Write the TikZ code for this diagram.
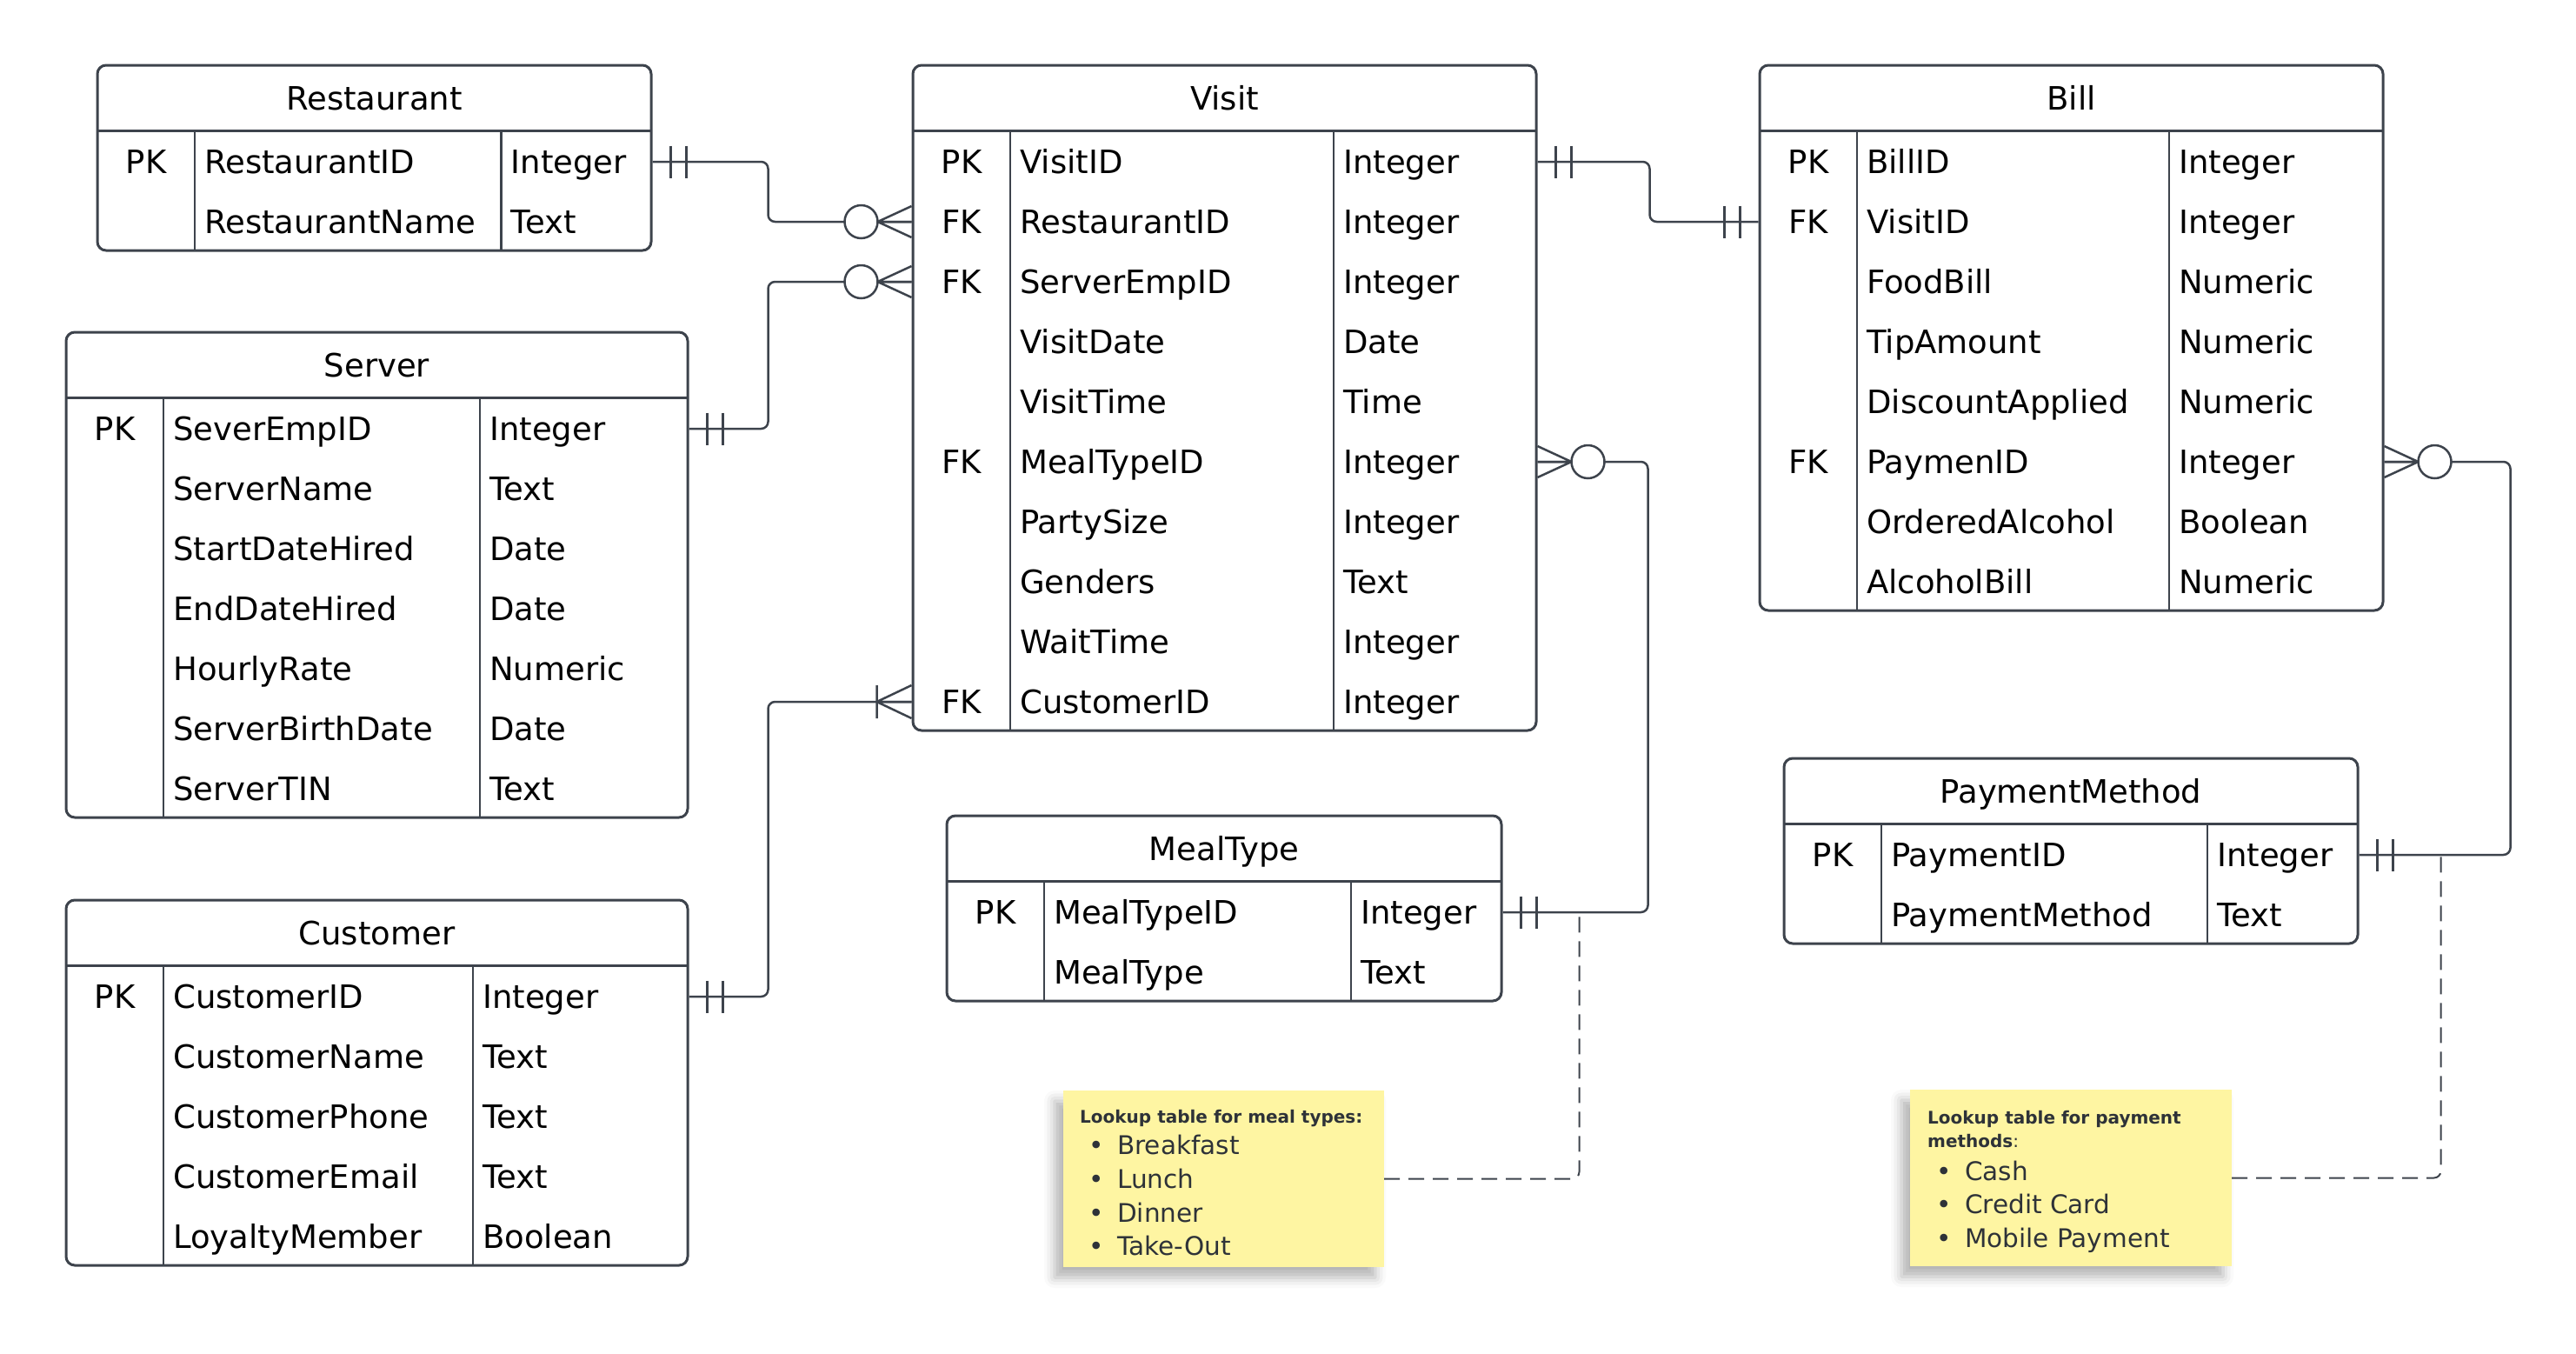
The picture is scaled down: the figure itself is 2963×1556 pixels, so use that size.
\documentclass[tikz,border=0pt]{standalone}
\usepackage{fontspec}
\setmainfont{DejaVu Sans}
\usetikzlibrary{calc,shadows,shadows.blur}
\definecolor{linegrey}{HTML}{3D434C}
\definecolor{noteyellow}{HTML}{FEF5A2}
\definecolor{notetext}{HTML}{2E3238}
\newcommand{\erfont}{\fontsize{37}{44}\selectfont}
\newcommand{\noteheadfont}{\fontsize{20}{27}\selectfont\bfseries}
\newcommand{\noteitemfont}{\fontsize{29.5}{38}\selectfont}
\tikzstyle{tablebox}=[draw=linegrey,line width=3pt,rounded corners=10pt,fill=white,inner sep=0pt]
\tikzstyle{tableline}=[draw=linegrey,line width=3pt]
\tikzstyle{colline}=[draw=linegrey,line width=2.5pt]
\tikzstyle{keytext}=[font=\erfont,inner sep=0pt,text height=27pt,text depth=0pt]
\tikzstyle{rowtext}=[keytext,anchor=west]
\tikzstyle{relline}=[draw=linegrey,line width=2.5pt,rounded corners=8pt]
\tikzstyle{noteline}=[draw=linegrey,line width=2pt,dash pattern=on 18pt off 10pt,rounded corners=8pt]
\tikzstyle{stickynote}=[fill=noteyellow,inner sep=0pt,blur shadow={shadow xshift=-10pt,shadow yshift=-12pt,shadow blur radius=12pt,shadow opacity=30}]
\tikzstyle{notehead}=[font=\noteheadfont,text=notetext,anchor=west,inner sep=0pt,text height=15pt,text depth=0pt]
\tikzstyle{noteitem}=[font=\noteitemfont,text=notetext,anchor=west,inner sep=0pt,text height=21.5pt,text depth=0pt]
\tikzset{
  oneone/.pic={\draw[relline,sharp corners] (21,-18.5) -- (21,18.5) (39,-18.5) -- (39,18.5);},
  zeromany/.pic={\draw[relline,sharp corners] (0,-18) -- (39,0) -- (0,18) (0,0) -- (39,0);
    \draw[relline,fill=white] (58,0) circle (19);},
  onemany/.pic={\draw[relline,sharp corners] (0,-19) -- (40,0) -- (0,19) (0,0) -- (40,0) (40,-19) -- (40,19);}
}
% name, title, left, top, right, type column, number of rows, rows
\newcommand{\ertable}[8]{%
  \pgfmathsetmacro{\tabhdr}{#4+75}
  \pgfmathsetmacro{\tabbot}{#4+75+69*#7}
  \node[tablebox,minimum width={(#5-#3)*1pt},minimum height={(\tabbot-#4)*1pt}]
    (#1) at ({(#3+#5)/2},{(#4+\tabbot)/2}) {};
  \node[keytext] (#1-title) at ({(#3+#5)/2},{(#4+\tabhdr)/2}) {#2};
  \draw[tableline] (#3,\tabhdr) -- (#5,\tabhdr);
  \draw[colline] ({#3+112},\tabhdr) -- ({#3+112},\tabbot);
  \draw[colline] (#6,\tabhdr) -- (#6,\tabbot);
  \foreach \ky/\fd/\ty [count=\i] in {#8} {
    \pgfmathsetmacro{\rowy}{\tabhdr+36+69*(\i-1)}
    \node[keytext] (#1-k\i) at ({#3+56},\rowy) {\ky};
    \node[rowtext] (#1-f\i) at ({#3+123},\rowy) {\fd};
    \node[rowtext] (#1-t\i) at ({#6+11},\rowy) {\ty};
  }
}
\begin{document}
\begin{tikzpicture}[x=1pt,y=-1pt]
  \useasboundingbox (0,0) rectangle (2963,1556);

  % entities
  \ertable{restaurant}{Restaurant}{112}{75}{749}{576.5}{2}
    {PK/RestaurantID/Integer, {}/RestaurantName/Text}
  \ertable{server}{Server}{76}{382}{791}{552}{7}
    {PK/SeverEmpID/Integer, {}/ServerName/Text, {}/StartDateHired/Date,
     {}/EndDateHired/Date, {}/HourlyRate/Numeric, {}/ServerBirthDate/Date, {}/ServerTIN/Text}
  \ertable{customer}{Customer}{76}{1035}{791}{544}{5}
    {PK/CustomerID/Integer, {}/CustomerName/Text, {}/CustomerPhone/Text,
     {}/CustomerEmail/Text, {}/LoyaltyMember/Boolean}
  \ertable{visit}{Visit}{1050}{75}{1767}{1534}{10}
    {PK/VisitID/Integer, FK/RestaurantID/Integer, FK/ServerEmpID/Integer, {}/VisitDate/Date,
     {}/VisitTime/Time, FK/MealTypeID/Integer, {}/PartySize/Integer, {}/Genders/Text,
     {}/WaitTime/Integer, FK/CustomerID/Integer}
  \ertable{bill}{Bill}{2024}{75}{2741}{2495}{8}
    {PK/BillID/Integer, FK/VisitID/Integer, {}/FoodBill/Numeric, {}/TipAmount/Numeric,
     {}/DiscountApplied/Numeric, FK/PaymenID/Integer, {}/OrderedAlcohol/Boolean, {}/AlcoholBill/Numeric}
  \ertable{mealtype}{MealType}{1089}{938}{1727}{1554}{2}
    {PK/MealTypeID/Integer, {}/MealType/Text}
  \ertable{payment}{PaymentMethod}{2052}{872}{2712}{2539}{2}
    {PK/PaymentID/Integer, {}/PaymentMethod/Text}

  % relationships
  \draw[relline] (restaurant.east |- restaurant-f1) -- ++(133,0) |- (visit.west |- visit-f2);
  \draw[relline] (server.east |- server-f1) -- ++(91,0) |- (visit.west |- visit-f3);
  \draw[relline] (customer.east |- customer-f1) -- ++(91,0) |- (visit.west |- visit-f10);
  \draw[relline] (visit.east |- visit-f1) -- ++(129,0) |- (bill.west |- bill-f2);
  \draw[relline] (mealtype.east |- mealtype-f1) -- ++(167,0) |- (visit.east |- visit-f6);
  \draw[relline] (payment.east |- payment-f1) -- ++(174,0) |- (bill.east |- bill-f6);

  \path (restaurant.east |- restaurant-f1) pic {oneone};
  \path (server.east |- server-f1) pic {oneone};
  \path (customer.east |- customer-f1) pic {oneone};
  \path (visit.east |- visit-f1) pic {oneone};
  \path (bill.west |- bill-f2) pic[xscale=-1] {oneone};
  \path (mealtype.east |- mealtype-f1) pic {oneone};
  \path (payment.east |- payment-f1) pic {oneone};
  \path (visit.west |- visit-f2) pic[xscale=-1] {zeromany};
  \path (visit.west |- visit-f3) pic[xscale=-1] {zeromany};
  \path (visit.west |- visit-f10) pic[xscale=-1] {onemany};
  \path (visit.east |- visit-f6) pic {zeromany};
  \path (bill.east |- bill-f6) pic {zeromany};

  % sticky notes
  \node[stickynote,minimum width=369pt,minimum height=203pt] (mealnote) at (1407.5,1355.5) {};
  \node[notehead] (mealnote-h) at (1242,1284) {Lookup table for meal types:};
  \foreach \item/\y [count=\i] in {Breakfast/1317, Lunch/1356, Dinner/1395, Take-Out/1433}
    \node[noteitem] (mealnote-i\i) at (1285,\y) {\llap{\textbullet\hskip 15pt}\item};

  \node[stickynote,minimum width=370pt,minimum height=203pt] (paynote) at (2382,1354.5) {};
  \node[notehead] (paynote-h1) at (2217,1284.5) {Lookup table for payment};
  \node[notehead] (paynote-h2) at (2217,1312) {methods\mdseries:};
  \foreach \item/\y [count=\i] in {Cash/1347, Credit Card/1385, Mobile Payment/1424}
    \node[noteitem] (paynote-i\i) at (2260,\y) {\llap{\textbullet\hskip 15pt}\item};

  \coordinate (mealtap) at ($(mealtype.east |- mealtype-f1)+(88,0)$);
  \coordinate (paytap) at ($(payment.east |- payment-f1)+(94,0)$);
  \draw[noteline] (mealnote.east) -| (mealtap);
  \draw[noteline] (paynote.east) -| (paytap);
\end{tikzpicture}
\end{document}
